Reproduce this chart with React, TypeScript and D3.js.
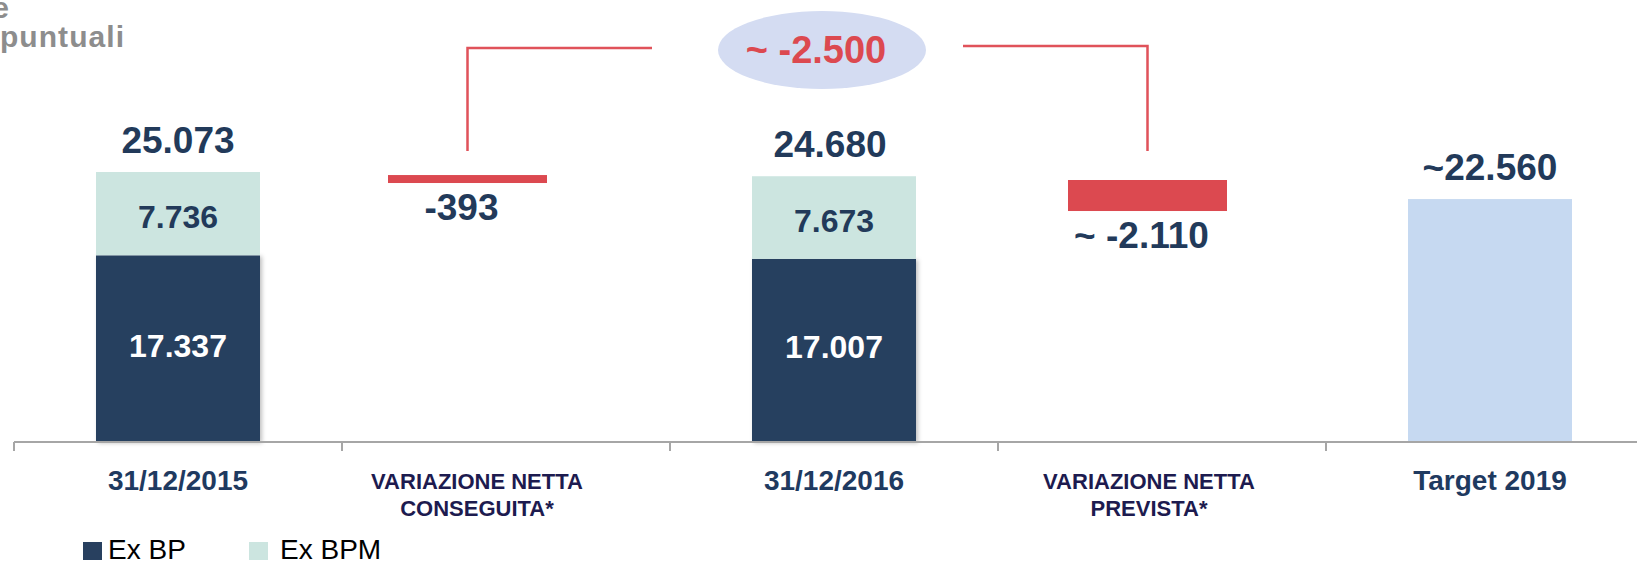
import React from "react";
import * as d3 from "d3";

// categories (multi-line labels split on "|")
const categories = [
  "31/12/2015",
  "VARIAZIONE NETTA|CONSEGUITA*",
  "31/12/2016",
  "VARIAZIONE NETTA|PREVISTA*",
  "Target 2019",
];

// stacked columns
const exBP = [17337, null, 17007, null, null];
const exBPM = [7736, null, 7673, null, null];
const totals = [25073, null, 24680, null, 22560];
const totalLabels = ["25.073", null, "24.680", null, "~22.560"];
const exBPLabels = ["17.337", null, "17.007", null, null];
const exBPMLabels = ["7.736", null, "7.673", null, null];

// floating red bars (spans)
const dropFrom = [null, 24790, null, 24330, null];
const dropTo = [null, 24050, null, 21450, null];
const dropLabels = [null, "-393", null, "~ -2.110", null];

const overallLabel = "~ -2.500";
const legendItems = ["Ex BP", "Ex BPM"];

const W = 1637;
const H = 563;
const NAVY = "#28405f";
const MINT = "#cce5e0";
const TARGET = "#c6d9f1";
const RED = "#dc4950";
const TEXT = "#223a5a";
const FONT = "'Liberation Sans', Arial, sans-serif";

export default function App() {
  const x = d3.scaleBand<string>().domain(categories).range([14, 14 + 5 * 328]);
  const y = d3.scaleLinear().domain([0, 25073]).range([442, 172]);
  const bw = x.bandwidth() / 2;
  const center = (i: number) => (x(categories[i]) as number) + x.bandwidth() / 2;
  // the middle columns are nudged left in the original slide
  const barShift = [0, -38.5, 0, -14.5, 0];
  const labelShift = [0, -29, 0, -13, 0];

  const ticks = d3.range(categories.length).map((i) => x(categories[i]) as number);

  const bracketL = center(1) + barShift[1];
  const bracketR = center(3) + barShift[3];
  const ellX = center(2) - 12;
  const ellY = 50;

  return (
    <svg
      width={W}
      height={H}
      style={{ position: "absolute", left: 0, top: 0, background: "#fff" }}
      fontFamily={FONT}
    >
      <defs>
        <filter id="shadow" x="-10%" y="-10%" width="130%" height="120%">
          <feDropShadow dx="2" dy="1" stdDeviation="2" floodColor="#000" floodOpacity="0.25" />
        </filter>
      </defs>

      {/* cropped title fragments */}
      <text x={9} y={18} textAnchor="end" fontSize={30} fontWeight={700} fill="#8d8d8d">
        e
      </text>
      <text x={0} y={47} fontSize={30} fontWeight={700} fill="#8d8d8d" textLength={124} lengthAdjust="spacing">
        puntuali
      </text>

      {/* stacked columns */}
      {categories.map((c, i) => {
        const cx = center(i);
        if (exBP[i] == null) return null;
        const yTop = y(totals[i] as number);
        const yMid = y(exBP[i] as number);
        return (
          <g key={"stack" + i}>
            <rect x={cx - bw / 2} y={yMid} width={bw} height={y(0) - yMid} fill={NAVY} filter="url(#shadow)" />
            <rect x={cx - bw / 2} y={yTop} width={bw} height={yMid - yTop} fill={MINT} />
            <text x={cx} y={(yTop + yMid) / 2 + 14} textAnchor="middle" fontSize={32} fontWeight={700} fill={TEXT}>
              {exBPMLabels[i]}
            </text>
            <text x={cx} y={(yMid + y(0)) / 2 + 8} textAnchor="middle" fontSize={32} fontWeight={700} fill="#fff">
              {exBPLabels[i]}
            </text>
          </g>
        );
      })}

      {/* target column */}
      {categories.map((c, i) => {
        if (totals[i] == null || exBP[i] != null) return null;
        const cx = center(i);
        return (
          <rect key={"t" + i} x={cx - bw / 2} y={y(totals[i] as number)} width={bw} height={y(0) - y(totals[i] as number)} fill={TARGET} />
        );
      })}

      {/* totals */}
      {categories.map((c, i) =>
        totals[i] == null ? null : (
          <text key={"tot" + i} x={center(i) - (i === 2 ? 4 : 0)} y={y(totals[i] as number) - 19} textAnchor="middle" fontSize={37} fontWeight={700} fill={TEXT}>
            {totalLabels[i]}
          </text>
        )
      )}

      {/* red drops */}
      {categories.map((c, i) => {
        if (dropFrom[i] == null) return null;
        const cx = center(i) + barShift[i];
        const y0 = y(dropFrom[i] as number);
        const y1 = y(dropTo[i] as number);
        return (
          <g key={"d" + i}>
            <rect x={cx - 159 / 2} y={y0} width={159} height={y1 - y0} fill={RED} />
            <text x={cx - 6} y={y1 + 37} textAnchor="middle" fontSize={37} fontWeight={700} fill={TEXT}>
              {dropLabels[i]}
            </text>
          </g>
        );
      })}

      {/* bracket annotation */}
      <path d={`M${bracketL},151 V48 H652`} fill="none" stroke="#e0525a" strokeWidth={2.5} />
      <path d={`M963,46 H${bracketR} V151`} fill="none" stroke="#e0525a" strokeWidth={2.5} />
      <ellipse cx={ellX} cy={ellY} rx={104} ry={39} fill="#d4dcf2" />
      <text x={ellX - 6} y={63} textAnchor="middle" fontSize={38} fontWeight={700} fill={RED}>
        {overallLabel}
      </text>

      {/* axis */}
      <line x1={14} x2={W} y1={442} y2={442} stroke="#a6a6a6" strokeWidth={2} />
      {ticks.map((t, i) => (
        <line key={"tk" + i} x1={t} x2={t} y1={442} y2={451} stroke="#a6a6a6" strokeWidth={2} />
      ))}

      {/* category labels */}
      {categories.map((c, i) => {
        const lines = c.split("|");
        const cx = center(i) + labelShift[i];
        if (lines.length === 1) {
          return (
            <text key={"c" + i} x={cx} y={490} textAnchor="middle" fontSize={28} fontWeight={700} fill="#1f3a60">
              {c}
            </text>
          );
        }
        return (
          <text key={"c" + i} x={cx} textAnchor="middle" fontSize={22} fontWeight={700} fill="#1d1b4f">
            {lines.map((l, j) => (
              <tspan key={j} x={cx} y={489 + j * 27}>
                {l}
              </tspan>
            ))}
          </text>
        );
      })}

      {/* legend */}
      {legendItems.map((l, i) => {
        const lx = [83, 249][i];
        const tx = [108, 280][i];
        return (
          <g key={"lg" + i}>
            <rect x={lx} y={542} width={19} height={18} fill={i === 0 ? NAVY : MINT} />
            <text x={tx} y={559} fontSize={28} fill="#000">
              {l}
            </text>
          </g>
        );
      })}
    </svg>
  );
}
